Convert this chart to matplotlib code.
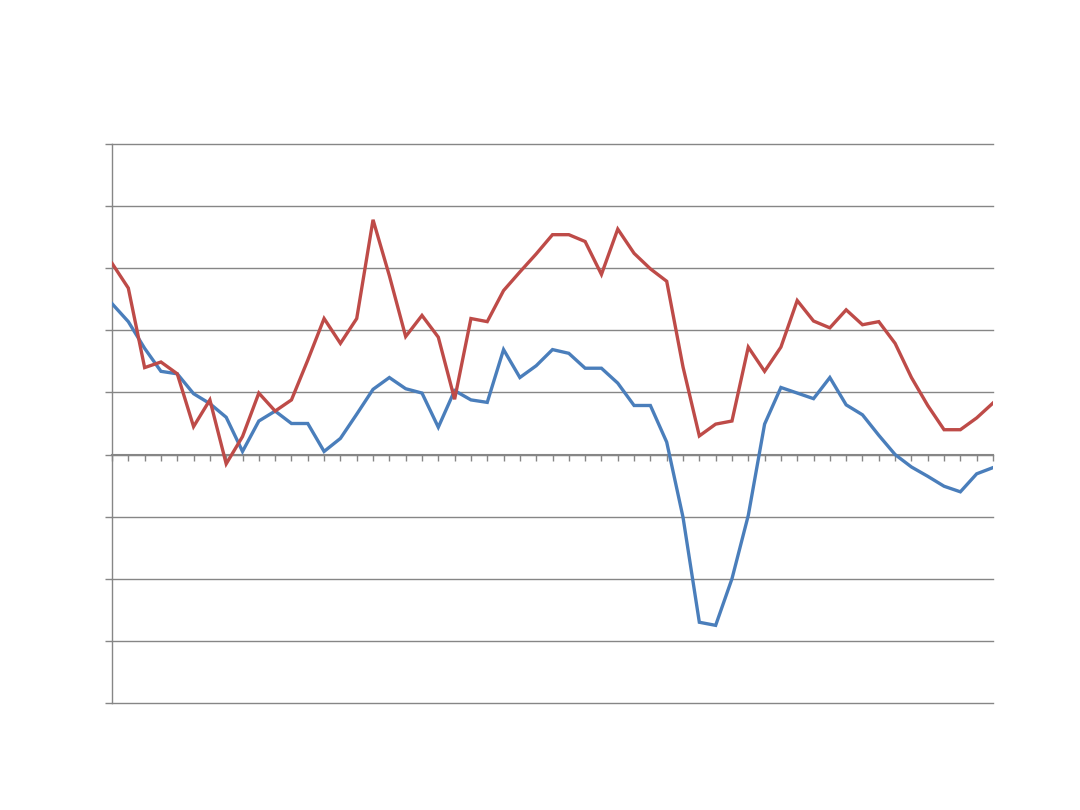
import matplotlib
matplotlib.use("Agg")
import matplotlib.pyplot as plt
import numpy as np

periods = list(range(55))
series_blue = [2.43, 2.14, 1.71, 1.34, 1.30, 0.98, 0.82, 0.60, 0.05, 0.54,
               0.70, 0.50, 0.50, 0.05, 0.26, 0.65, 1.05, 1.24, 1.06, 0.99,
               0.44, 1.03, 0.88, 0.84, 1.69, 1.24, 1.43, 1.69, 1.63, 1.39,
               1.39, 1.15, 0.79, 0.79, 0.20, -1.01, -2.70, -2.75, -2.00, -0.98,
               0.49, 1.08, 0.99, 0.90, 1.24, 0.80, 0.64, 0.31, 0.00, -0.20,
               -0.35, -0.51, -0.60, -0.31, -0.21]
series_red = [3.08, 2.68, 1.40, 1.49, 1.30, 0.45, 0.88, -0.15, 0.29, 0.99,
              0.70, 0.88, 1.52, 2.19, 1.79, 2.19, 3.78, 2.88, 1.90, 2.24,
              1.89, 0.89, 2.19, 2.14, 2.64, 2.94, 3.23, 3.54, 3.54, 3.43,
              2.90, 3.63, 3.24, 2.99, 2.79, 1.41, 0.30, 0.49, 0.54, 1.73,
              1.34, 1.73, 2.48, 2.15, 2.04, 2.33, 2.09, 2.14, 1.79, 1.24,
              0.79, 0.40, 0.40, 0.59, 0.83]
y_ticks = [-4, -3, -2, -1, 0, 1, 2, 3, 4, 5]

fig = plt.figure(figsize=(10.8, 8.1), dpi=100)
ax = fig.add_axes([112/1080, (810-703)/810, (993-112)/1080, (703-144)/810])

grid_c = "#868686"
for yv in y_ticks:
    ax.axhline(yv, color=grid_c, lw=1.0, zorder=1, clip_on=False)

ax.plot(periods, series_blue, color="#4A7EBB", lw=2.4, zorder=3, solid_joinstyle="miter")
ax.plot(periods, series_red, color="#BE4B48", lw=2.4, zorder=4, solid_joinstyle="miter")

ax.set_xlim(0, 54)
ax.set_ylim(-4, 5)
ax.set_yticks(y_ticks)
ax.set_xticks(periods)
ax.set_yticklabels([])
ax.set_xticklabels([])

for s in ["top", "right"]:
    ax.spines[s].set_visible(False)
ax.spines["left"].set_color(grid_c)
ax.spines["left"].set_linewidth(1.0)
ax.spines["bottom"].set_position(("data", 0))
ax.spines["bottom"].set_color(grid_c)
ax.spines["bottom"].set_linewidth(1.5)
ax.tick_params(axis="y", direction="out", length=5, width=1.0, color=grid_c)
ax.tick_params(axis="x", direction="out", length=4, width=1.0, color=grid_c)

fig.savefig("out.png", dpi=100)
